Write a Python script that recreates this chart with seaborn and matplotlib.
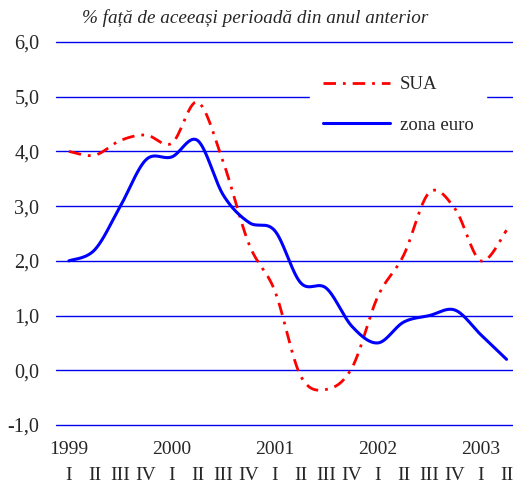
import numpy as np
import matplotlib
matplotlib.use("Agg")
import matplotlib.pyplot as plt
import matplotlib.transforms as mtransforms
import seaborn as sns

# Quarterly data, 1999 Q1 - 2003 Q2 (annual % change)
years = ["1999", "2000", "2001", "2002", "2003"]
quarters = ["I", "II", "III", "IV"] * 4 + ["I", "II"]
sua = [4.0, 3.93, 4.2, 4.3, 4.15, 4.9, 3.8, 2.3, 1.45, -0.1, -0.35, 0.05, 1.35, 2.1, 3.25, 2.95, 2.0, 2.56]
zona_euro = [2.0, 2.2, 3.0, 3.85, 3.9, 4.2, 3.2, 2.7, 2.55, 1.6, 1.5, 0.8, 0.5, 0.88, 1.0, 1.1, 0.65, 0.2]


def smooth(vals, n=30):
    # Excel-like smoothed line (Catmull-Rom Bezier)
    x = np.arange(len(vals), dtype=float)
    y = np.asarray(vals, dtype=float)
    px = np.concatenate([[x[0]], x, [x[-1]]])
    py = np.concatenate([[y[0]], y, [y[-1]]])
    xs, ys = [], []
    t = np.linspace(0, 1, n, endpoint=False)
    for i in range(len(x) - 1):
        p0 = np.array([px[i + 1], py[i + 1]])
        p3 = np.array([px[i + 2], py[i + 2]])
        c1 = p0 + (p3 - np.array([px[i], py[i]])) / 6
        c2 = p3 - (np.array([px[i + 3], py[i + 3]]) - p0) / 6
        b = ((1 - t) ** 3)[:, None] * p0 + (3 * (1 - t) ** 2 * t)[:, None] * c1 \
            + (3 * (1 - t) * t ** 2)[:, None] * c2 + (t ** 3)[:, None] * p3
        xs.extend(b[:, 0])
        ys.extend(b[:, 1])
    xs.append(x[-1])
    ys.append(y[-1])
    return np.array(xs), np.array(ys)


sns.set_style("white")
plt.rcParams["font.family"] = ["Liberation Serif", "DejaVu Serif"]

fig = plt.figure(figsize=(5.13, 4.84), dpi=100)
ax = fig.add_axes([56 / 513, 1 - 425 / 484, 1 - 56 / 513, (425 - 42) / 484])
ax.set_xlim(-0.5, 17.25)
ax.set_ylim(-1.0, 6.0)

for v in range(-1, 7):
    ax.axhline(v, color="#0000ee", lw=1.0, zorder=1, clip_on=False)

xs, ys = smooth(sua)
sns.lineplot(x=xs, y=ys, sort=False, estimator=None, ax=ax, color="#ff0000",
             lw=2.0, linestyle=(0, (4.5, 2.5, 1, 2.5)), label="SUA", zorder=3)
xe, ye = smooth(zona_euro)
sns.lineplot(x=xe, y=ye, sort=False, estimator=None, ax=ax, color="#0000ff",
             lw=2.2, label="zona euro", zorder=3)

for s in ax.spines.values():
    s.set_visible(False)
ax.set_yticks(range(-1, 7))
ax.set_yticklabels([f"{v},0" for v in range(-1, 7)], fontsize=14.5)
ax.tick_params(axis="y", length=0, pad=12)
ax.set_xticks([])
ax.set_xlabel("")
ax.set_ylabel("")

trans = mtransforms.blended_transform_factory(ax.transData, fig.transFigure)
for k, yr in enumerate(years):
    ax.text(k * 4, 1 - 450 / 484, yr, transform=trans, ha="center", va="center", fontsize=14)
for i, q in enumerate(quarters):
    ax.text(i, 1 - 475 / 484, q, transform=trans, ha="center", va="center", fontsize=14)

fig.text(82 / 513, 1 - 18 / 484, "% față de aceeași perioadă din anul anterior",
         fontsize=13.8, style="italic", ha="left", va="center")

leg = ax.legend(loc="center", bbox_to_anchor=(398 / 513, 1 - 105 / 484),
                bbox_transform=fig.transFigure, frameon=True, fontsize=13.5,
                handlelength=3.6, handletextpad=0.5, labelspacing=1.25,
                borderpad=0.7, borderaxespad=0, fancybox=False)
leg.get_frame().set_edgecolor("white")
leg.get_frame().set_facecolor("white")
leg.get_frame().set_alpha(1)

fig.savefig("out.png", dpi=100)
